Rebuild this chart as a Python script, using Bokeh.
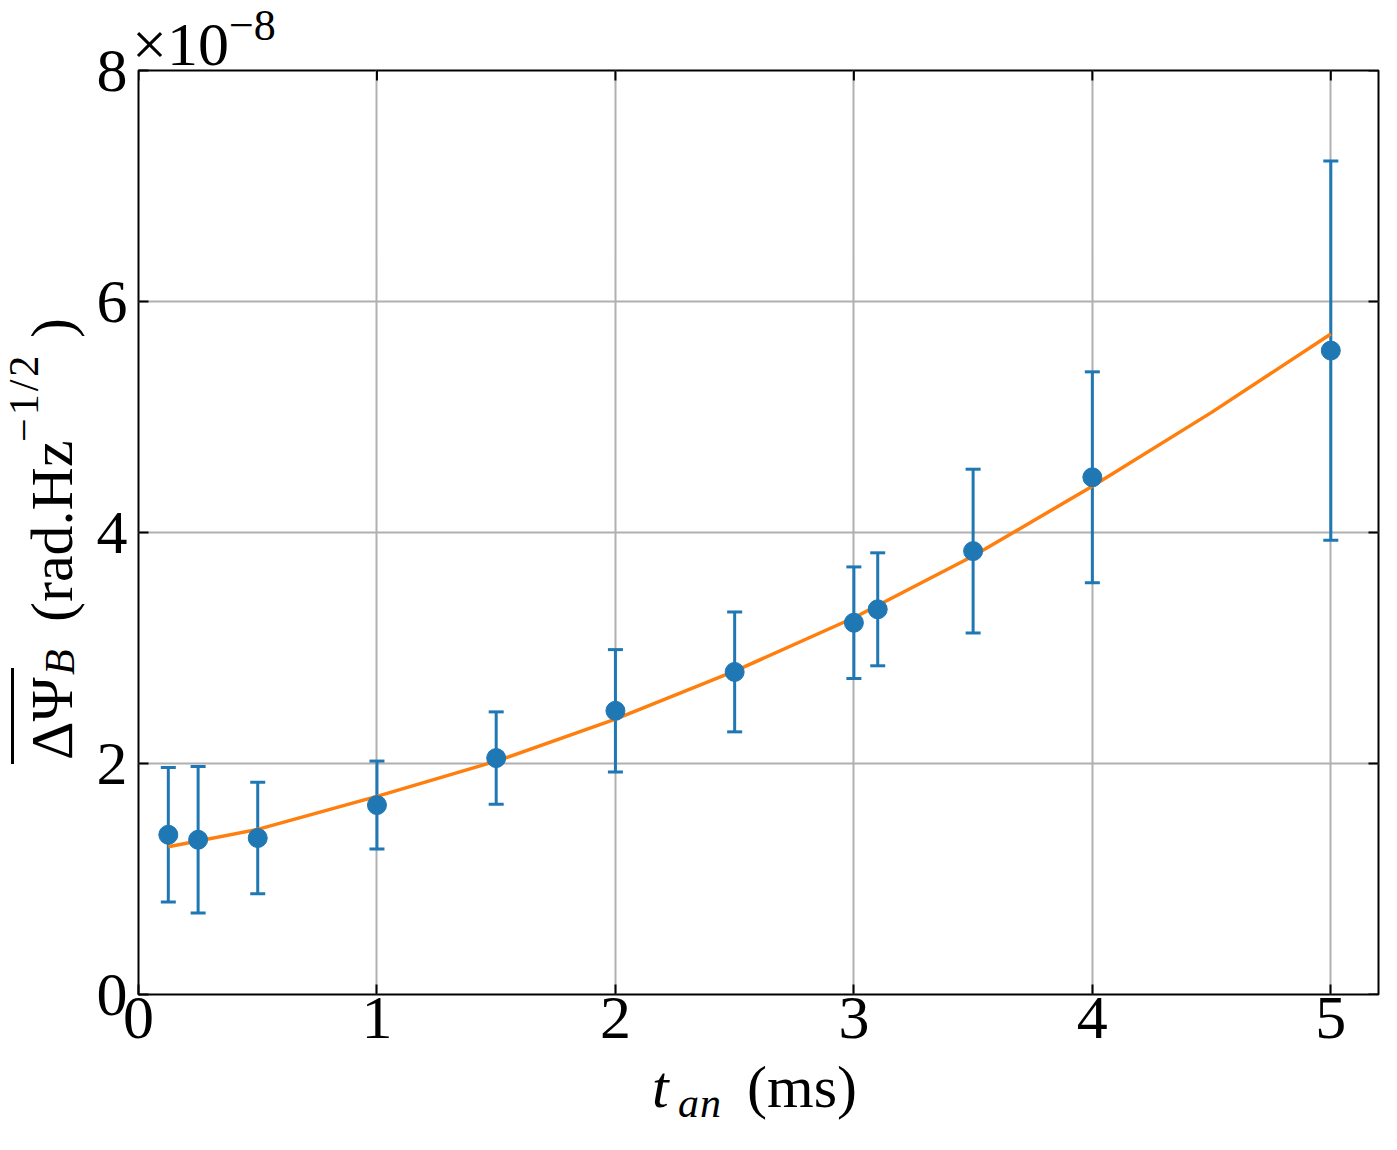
from bokeh.plotting import figure
from bokeh.models import ColumnDataSource, Whisker, TeeHead, FixedTicker, Range1d, Div
from bokeh.layouts import column, row
from bokeh.embed import file_html
from bokeh.resources import INLINE

# ---- data (y in units of 1e-8 rad.Hz^-1/2) ----
t_an = [0.125, 0.25, 0.5, 1.0, 1.5, 2.0, 2.5, 3.0, 3.1, 3.5, 4.0, 5.0]
psi = [1.383, 1.340, 1.355, 1.640, 2.047, 2.456, 2.793, 3.219, 3.335, 3.839, 4.478, 5.575]
psi_err = [0.582, 0.634, 0.483, 0.381, 0.400, 0.530, 0.519, 0.483, 0.489, 0.709, 0.913, 1.642]

fit_t = [0.125, 0.5, 1.0, 1.5, 2.0, 2.5, 3.0, 3.5, 4.0, 4.5, 5.0]
fit_psi = [1.28, 1.43, 1.715, 2.02, 2.384, 2.80, 3.262, 3.796, 4.401, 5.04, 5.718]

x_ticks = [0, 1, 2, 3, 4, 5]
y_ticks = [0, 2, 4, 6, 8]
X_MAX, Y_MAX = 5.2, 8

BLUE = "#1f77b4"
ORANGE = "#ff7f0e"
FONT = "Liberation Serif"
FS = "62px"

FW, FH = 1240, 924          # frame size
BL, BR, BT, BB = 50, 10, 46, 90
YDIV_W, TOP_H, XDIV_H = 78, 14, 56
OFF = 2                     # extra vertical offset observed in the layout
X_FIX = -15                 # observed offset of the bottom label container
P_W = BL + FW + BR
P_H = BT + FH + BB
TOT_W = YDIV_W + P_W

lo = [v - e for v, e in zip(psi, psi_err)]
hi = [v + e for v, e in zip(psi, psi_err)]
src = ColumnDataSource(dict(x=t_an, y=psi, lo=lo, hi=hi))

p = figure(frame_width=FW, frame_height=FH,
           x_range=Range1d(0, X_MAX), y_range=Range1d(0, Y_MAX),
           output_backend="svg", toolbar_location=None,
           min_border_left=BL, min_border_top=BT, min_border_bottom=BB,
           min_border_right=BR)
p.background_fill_color = "white"
p.border_fill_color = None
p.outline_line_color = "black"
p.outline_line_width = 2

for ax in (p.xaxis[0], p.yaxis[0]):
    ax.major_label_text_font = FONT
    ax.major_label_text_font_size = FS
    ax.major_label_text_color = "black"
    ax.axis_line_color = None
    ax.major_tick_in = 10
    ax.major_tick_out = 0
    ax.major_tick_line_width = 2
    ax.major_tick_line_color = "black"
    ax.minor_tick_line_color = None
p.xaxis[0].ticker = FixedTicker(ticks=x_ticks)
p.yaxis[0].ticker = FixedTicker(ticks=y_ticks)
p.xaxis[0].major_label_standoff = 3
p.yaxis[0].major_label_standoff = 11

p.xgrid.ticker = FixedTicker(ticks=x_ticks)
p.ygrid.ticker = FixedTicker(ticks=y_ticks)
p.grid.grid_line_color = "#b0b0b0"
p.grid.grid_line_width = 2

# inward ticks on the top and right edges (10 px long)
dy = 10 * Y_MAX / FH
dx = 10 * X_MAX / FW
p.segment(x0=x_ticks, y0=[Y_MAX] * len(x_ticks), x1=x_ticks, y1=[Y_MAX - dy] * len(x_ticks),
          line_color="black", line_width=2)
p.segment(x0=[X_MAX] * len(y_ticks), y0=y_ticks, x1=[X_MAX - dx] * len(y_ticks), y1=y_ticks,
          line_color="black", line_width=2)

# fit curve
p.line(fit_t, fit_psi, line_color=ORANGE, line_width=3.5)

# error bars + points
w = Whisker(source=src, base="x", upper="hi", lower="lo", dimension="height",
            line_color=BLUE, line_width=3,
            upper_head=TeeHead(size=15, line_color=BLUE, line_width=3),
            lower_head=TeeHead(size=15, line_color=BLUE, line_width=3))
p.add_layout(w)
p.scatter("x", "y", source=src, size=19, color=BLUE)


def piece(text, left, baseline, size, italic=False, spacing=0):
    """absolutely positioned text whose baseline sits at `baseline` (px from container top)"""
    top = baseline - 0.8375 * size
    st = "italic" if italic else "normal"
    return (f"<span style=\"position:absolute;left:{left:.1f}px;top:{top:.1f}px;"
            f"font-family:'{FONT}';font-size:{size}px;line-height:{size}px;"
            f"letter-spacing:{spacing}px;"
            f"font-style:{st};color:black;white-space:nowrap;\">{text}</span>")


# page positions of the containers
TOP_Y = 8
Y_TOP = 8 + TOP_H + OFF
X_TOP = 8 + TOP_H + OFF + P_H - X_FIX

# offset text  x10^-8 (one text, raised exponent)
sup = ("<span style='font-size:44px;line-height:0;position:relative;top:-25px;'>"
       "&minus;8</span>")
top_html = (f"<div style='position:relative;width:{TOT_W}px;height:{TOP_H}px;'>"
            + piece("&times;10" + sup, 135 - 8, 68 - TOP_Y, 62)
            + "</div>")

# y label (rotated 90 deg counter-clockwise); u = distance upward from page y 755
START = 755
BASE_X = 75
y_inner = (piece("&Delta;&Psi;", 0, BASE_X - 8, 60)
           + "<div style='position:absolute;left:-4px;top:6px;width:96px;height:3px;background:black;'></div>"
           + piece("B", 85, 77 - 8, 42, italic=True)
           + piece("(rad.Hz", 138, BASE_X - 8, 60)
           + piece("&minus;1/2", 318, 41 - 8, 42, spacing=3)
           + piece(")", 422, BASE_X - 8, 60))
y_html = (f"<div style='position:relative;width:{YDIV_W}px;height:{P_H}px;'>"
          f"<div style='position:absolute;left:0px;top:{START - Y_TOP}px;width:480px;height:80px;"
          f"transform-origin:0 0;transform:rotate(-90deg);'>{y_inner}</div></div>")

# x label  t_an (ms)
x_html = (f"<div style='position:relative;width:{TOT_W}px;height:{XDIV_H}px;'>"
          + piece("t", 655 - 8, 1107 - X_TOP, 60, italic=True)
          + piece("an", 681 - 8, 1117 - X_TOP, 42, italic=True, spacing=1)
          + piece("(ms)", 750 - 8, 1107 - X_TOP, 60)
          + "</div>")

top_div = Div(text=top_html, width=TOT_W, height=TOP_H, styles={"overflow": "visible"})
y_div = Div(text=y_html, width=YDIV_W, height=P_H, styles={"overflow": "visible"})
x_div = Div(text=x_html, width=TOT_W, height=XDIV_H, styles={"overflow": "visible"})

layout = column(top_div, row(y_div, p), x_div)

open("out.html", "w").write(file_html(layout, INLINE))
